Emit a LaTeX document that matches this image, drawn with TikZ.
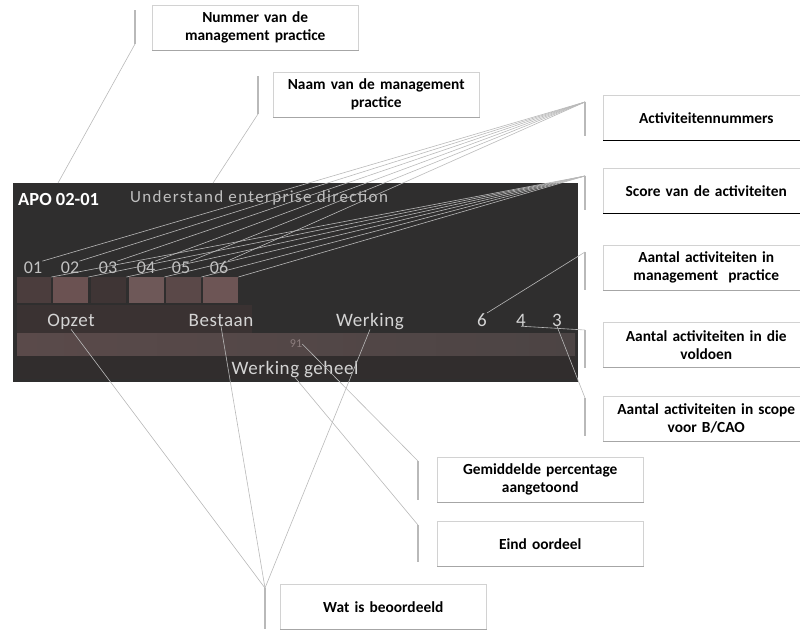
\documentclass[tikz,border=0pt]{standalone}
\usepackage{fontspec}
\setmainfont{Carlito}
\usetikzlibrary{calc}
\definecolor{panelbg}{HTML}{2F2E2E}
\definecolor{rowbg}{HTML}{3A3232}
\definecolor{barL}{HTML}{5A4A4A}
\definecolor{barR}{HTML}{4C4444}
\definecolor{botbg}{HTML}{312D2D}
\definecolor{lightx}{HTML}{D4D4D4}
\definecolor{numx}{HTML}{C2C2C2}
\begin{document}
\begin{tikzpicture}[x=1pt,y=-1pt,
  callout/.style={draw=gray!35, fill=white, line width=0.5pt,
    minimum width=206pt, minimum height=45pt, text width=202pt,
    align=center, anchor=north west, inner sep=2pt,
    font=\bfseries\fontsize{15.4}{18}\selectfont},
  bracket/.style={draw=gray!55, line width=1.1pt},
  leader/.style={draw=gray!55, line width=0.6pt},
  ptxt/.style={text=lightx, inner sep=0pt, anchor=base, font=\fontsize{19}{21}\selectfont\addfontfeature{LetterSpace=3}},
  ntxt/.style={text=numx, inner sep=0pt, anchor=base, font=\fontsize{18}{20}\selectfont},
  scorebox/.style={minimum width=35pt, minimum height=26pt, inner sep=0pt, anchor=north west}]
\useasboundingbox (0,0) rectangle (800,629);

% ---------- dark panel ----------
\fill[panelbg] (13,183) rectangle (578,382);
\fill[rowbg] (17,305) rectangle (252,333);
\shade[left color=barL, right color=barR] (17,333) rectangle (575,356);
\fill[botbg] (17,356) rectangle (575,379);

\node[anchor=west, inner sep=0pt, text=white, font=\bfseries\fontsize{18.5}{20}\selectfont] (apo) at (18,199) {APO 02-01};
\node[anchor=west, inner sep=0pt, text=lightx!90!black, font=\fontsize{17}{19}\selectfont\addfontfeature{LetterSpace=8}] (title) at (130,198) {Understand enterprise direction};

% activity numbers
\node[ntxt] (n01) at (33,273) {01};
\node[ntxt] (n02) at (70,273) {02};
\node[ntxt] (n03) at (108,273) {03};
\node[ntxt] (n04) at (146,273) {04};
\node[ntxt] (n05) at (181,273) {05};
\node[ntxt] (n06) at (219,273) {06};

% activity scores
\node[scorebox, fill={rgb,255:red,75;green,61;blue,61}, minimum width=34pt] (b01) at (17,277) {};
\node[scorebox, fill={rgb,255:red,107;green,82;blue,82}] (b02) at (53,277) {};
\node[scorebox, fill={rgb,255:red,63;green,53;blue,53}] (b03) at (91,277) {};
\node[scorebox, fill={rgb,255:red,110;green,88;blue,88}] (b04) at (129,277) {};
\node[scorebox, fill={rgb,255:red,90;green,72;blue,72}] (b05) at (166,277) {};
\node[scorebox, fill={rgb,255:red,109;green,85;blue,85}] (b06) at (203,277) {};

% assessment row
\node[ptxt] (opzet) at (71,326) {Opzet};
\node[ptxt] (bestaan) at (221,326) {Bestaan};
\node[ptxt] (werking) at (370,326) {Werking};
\node[ptxt] (c6) at (482,326) {6};
\node[ptxt] (c4) at (521,326) {4};
\node[ptxt] (c3) at (557,326) {3};
\node[inner sep=0pt, text={rgb,255:red,140;green,125;blue,125}, font=\fontsize{12}{13}\selectfont] (pct) at (296,344) {91};
\node[ptxt] (geheel) at (295,374) {Werking geheel};

% ---------- callouts ----------
\node[callout] (cNummer) at (152,5) {Nummer van de\\management practice};
\node[callout] (cNaam) at (273,72) {Naam van de management\\practice};
\node[callout] (cActNr) at (603,95) {Activiteitennummers};
\node[callout] (cScore) at (603,168) {Score van de activiteiten};
\node[callout] (cMP) at (603,245) {Aantal activiteiten in\\management\ \ practice};
\node[callout] (cVold) at (603,322) {Aantal activiteiten in die\\voldoen};
\node[callout] (cScope) at (603,396) {Aantal activiteiten in scope\\voor B/CAO};
\node[callout] (cGem) at (437,457) {Gemiddelde percentage\\aangetoond};
\node[callout] (cEind) at (437,521) {Eind oordeel};
\node[callout] (cWat) at (280,584) {Wat is beoordeeld};

% darker lower edges
\draw[black, line width=1.2pt] (cActNr.south west) -- (cActNr.south east);
\draw[black, line width=1.2pt] (cScore.south west) -- (cScore.south east);
\foreach \c in {cNummer,cNaam,cMP,cVold,cScope,cGem,cEind,cWat}
  \draw[gray!70, line width=1pt] (\c.south west) -- (\c.south east);

% ---------- brackets ----------
\coordinate (kNumT) at (135,10);   \coordinate (kNumB) at (135,44);
\coordinate (kNaamT) at (258,76);  \coordinate (kNaamB) at (258,114);
\coordinate (kActT) at (585,102);  \coordinate (kActB) at (585,136);
\coordinate (kScT) at (585,176);   \coordinate (kScB) at (585,210);
\coordinate (kMPT) at (585,252);   \coordinate (kMPB) at (585,290);
\coordinate (kVoT) at (585,330);   \coordinate (kVoB) at (585,368);
\coordinate (kSpT) at (585,398);   \coordinate (kSpB) at (585,436);
\coordinate (kGemT) at (418,461);  \coordinate (kGemB) at (418,500);
\coordinate (kEiT) at (418,525);   \coordinate (kEiB) at (418,562);
\coordinate (kWatT) at (265,588);  \coordinate (kWatB) at (265,629);
\foreach \k in {Num,Naam,Act,Sc,MP,Vo,Sp,Gem,Ei,Wat}
  \draw[bracket] (k\k T) -- (k\k B);

% ---------- leader lines ----------
\draw[leader] (kNumB) -- (58,183);
\draw[leader] (kNaamB) -- (213,183);
\foreach \n in {01,02,03,04,05,06}
  \draw[leader] (kActT) -- (n\n.north east);
\foreach \n in {01,02,03,04,05,06}
  \draw[leader] (kScT) -- (b\n.north east);
\draw[leader] (kMPT) -- (c6.north east);
\draw[leader] (kVoT) -- (c4.south);
\draw[leader] (kSpT) -- (c3.south);
\draw[leader] (kGemT) -- (pct.east);
\draw[leader] (kEiT) -- (geheel.south);
\draw[leader] (kWatT) -- (opzet.south);
\draw[leader] (kWatT) -- (bestaan.south);
\draw[leader] (kWatT) -- (werking.south);
\end{tikzpicture}
\end{document}
